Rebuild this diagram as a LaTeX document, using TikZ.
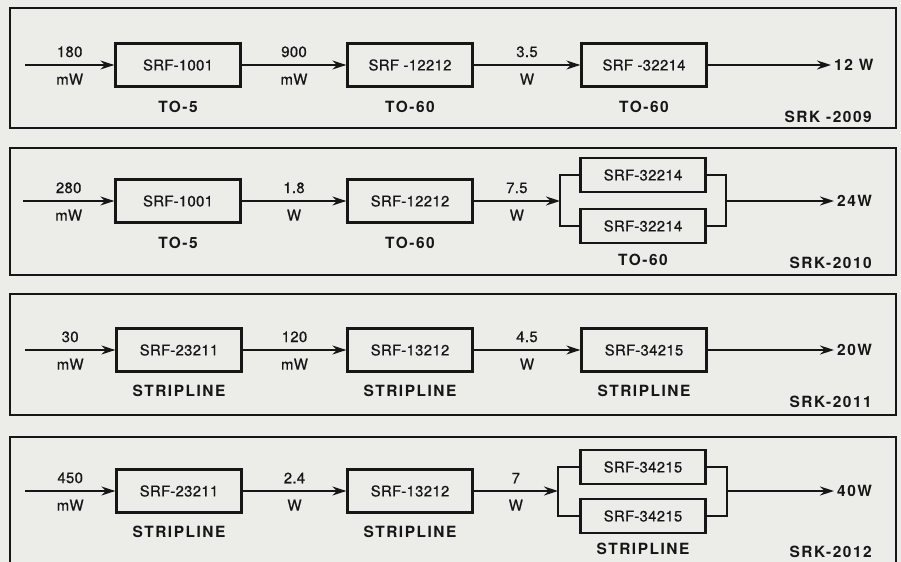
\documentclass[tikz,border=0pt]{standalone}
\usepackage{fontspec}
\setmainfont{TeX Gyre Heros}
\newfontfamily\boxfont[LetterSpace=2,FakeBold=0.6]{TeX Gyre Heros}
\newfontfamily\tagfont[LetterSpace=10]{TeX Gyre Heros}
\usetikzlibrary{arrows.meta,positioning}
\definecolor{ink}{HTML}{161616}
\definecolor{paper}{HTML}{ECECE9}
\tikzset{
  frame/.style={draw=ink, line width=2bp},
  amp/.style={draw=ink, line width=2.3bp, minimum width=125bp,
              minimum height=43bp, inner sep=0pt, text=ink,
              font=\boxfont\fontsize{15}{17}\selectfont},
  ampp/.style={amp, minimum height=34bp},
  wire/.style={draw=ink, line width=1.5bp},
  ar/.style={wire, -{Stealth[length=14bp,width=9bp]}},
  pw/.style={font=\boxfont\fontsize{15}{17}\selectfont, inner sep=0pt, text=ink},
  pkg/.style={font=\tagfont\bfseries\fontsize{15.5}{17}\selectfont,
              inner sep=0pt, text=ink},
  outw/.style={pkg, anchor=west, inner sep=3bp},
}

\begin{document}
\begin{tikzpicture}[x=1bp, y=-1bp]
  \fill[paper] (0,0) rectangle (901,562);
  \useasboundingbox (0,0) rectangle (901,562);

  % SRK-2009
  \draw[frame] (10,8) rectangle (896,128);
  \node[amp] (a11) at (178,65) {SRF-1001};
  \node[amp] (a12) at (410,65) {SRF -12212};
  \node[amp] (a13) at (644,65) {SRF -32214};
  \coordinate (i1) at (25,65);
  \node[outw] (o1) at (831,65) {12 W};
  \draw[ar] (i1) -- (a11) node[pw, midway, above=7bp] (w11) {180}
                          node[pw, midway, below=8bp] (u11) {mW};
  \draw[ar] (a11) -- (a12) node[pw, midway, above=7bp] (w12) {900}
                           node[pw, midway, below=8bp] (u12) {mW};
  \draw[ar] (a12) -- (a13) node[pw, midway, above=7bp] (w13) {3.5}
                           node[pw, midway, below=8bp] (u13) {W};
  \draw[ar] (a13) -- (o1);
  \node[pkg, below=13bp of a11] (t11) {TO-5};
  \node[pkg, below=13bp of a12] (t12) {TO-60};
  \node[pkg, below=13bp of a13] (t13) {TO-60};
  \node[pkg, anchor=east] (k1) at (872,117) {SRK -2009};

  % SRK-2010
  \draw[frame] (10,148) rectangle (896,275);
  \node[amp] (a21) at (178,201) {SRF-1001};
  \node[amp] (a22) at (410,201) {SRF-12212};
  \node[ampp] (p2a) at (643,175) {SRF-32214};
  \node[ampp] (p2b) at (643,226) {SRF-32214};
  \coordinate (i2) at (23,201);
  \coordinate (s2) at (560,201);
  \coordinate (j2) at (726,201);
  \node[outw] (o2) at (834,201) {24W};
  \draw[ar] (i2) -- (a21) node[pw, midway, above=7bp] (w21) {280}
                          node[pw, midway, below=8bp] (u21) {mW};
  \draw[ar] (a21) -- (a22) node[pw, midway, above=7bp] (w22) {1.8}
                           node[pw, midway, below=8bp] (u22) {W};
  \draw[ar] (a22) -- (s2) node[pw, midway, above=7bp] (w23) {7.5}
                          node[pw, midway, below=8bp] (u23) {W};
  \draw[wire] (p2a.west) -| (s2) |- (p2b.west);
  \draw[wire] (p2a.east) -| (j2) |- (p2b.east);
  \draw[ar] (j2) -- (o2);
  \node[pkg, below=13bp of a21] (t21) {TO-5};
  \node[pkg, below=13bp of a22] (t22) {TO-60};
  \node[pkg, below=10bp of p2b] (t23) {TO-60};
  \node[pkg, anchor=east] (k2) at (872,263) {SRK-2010};

  % SRK-2011
  \draw[frame] (10,294) rectangle (896,415);
  \node[amp] (a31) at (179,350) {SRF-23211};
  \node[amp] (a32) at (410,350) {SRF-13212};
  \node[amp] (a33) at (644,350) {SRF-34215};
  \coordinate (i3) at (25,350);
  \node[outw] (o3) at (834,350) {20W};
  \draw[ar] (i3) -- (a31) node[pw, midway, above=7bp] (w31) {30}
                          node[pw, midway, below=8bp] (u31) {mW};
  \draw[ar] (a31) -- (a32) node[pw, midway, above=7bp] (w32) {120}
                           node[pw, midway, below=8bp] (u32) {mW};
  \draw[ar] (a32) -- (a33) node[pw, midway, above=7bp] (w33) {4.5}
                           node[pw, midway, below=8bp] (u33) {W};
  \draw[ar] (a33) -- (o3);
  \node[pkg, below=12bp of a31] (t31) {STRIPLINE};
  \node[pkg, below=12bp of a32] (t32) {STRIPLINE};
  \node[pkg, below=12bp of a33] (t33) {STRIPLINE};
  \node[pkg, anchor=east] (k3) at (872,402) {SRK-2011};

  % SRK-2012
  \draw[frame] (10,570) -- (10,437) -- (896,437) -- (896,570);
  \node[amp] (a41) at (179,491) {SRF-23211};
  \node[amp] (a42) at (410,491) {SRF-13212};
  \node[ampp] (p4a) at (643,467) {SRF-34215};
  \node[ampp] (p4b) at (643,516) {SRF-34215};
  \coordinate (i4) at (25,491);
  \coordinate (s4) at (558,491);
  \coordinate (j4) at (727,491);
  \node[outw] (o4) at (834,491) {40W};
  \draw[ar] (i4) -- (a41) node[pw, midway, above=7bp] (w41) {450}
                          node[pw, midway, below=8bp] (u41) {mW};
  \draw[ar] (a41) -- (a42) node[pw, midway, above=7bp] (w42) {2.4}
                           node[pw, midway, below=8bp] (u42) {W};
  \draw[ar] (a42) -- (s4) node[pw, midway, above=7bp] (w43) {7}
                          node[pw, midway, below=8bp] (u43) {W};
  \draw[wire] (p4a.west) -| (s4) |- (p4b.west);
  \draw[wire] (p4a.east) -| (j4) |- (p4b.east);
  \draw[ar] (j4) -- (o4);
  \node[pkg, below=12bp of a41] (t41) {STRIPLINE};
  \node[pkg, below=12bp of a42] (t42) {STRIPLINE};
  \node[pkg, below=9bp of p4b] (t43) {STRIPLINE};
  \node[pkg, anchor=east] (k4) at (872,552) {SRK-2012};
\end{tikzpicture}
\end{document}
